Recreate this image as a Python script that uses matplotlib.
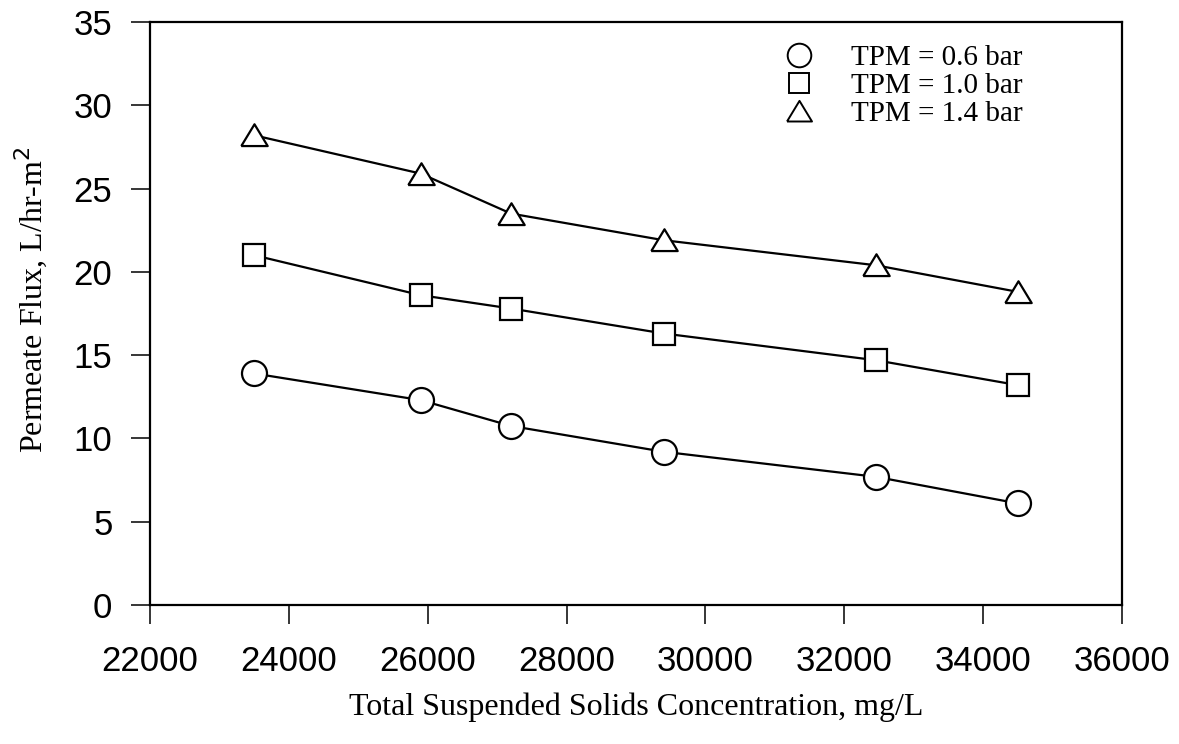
import numpy as np
import matplotlib
matplotlib.use("Agg")
import matplotlib.pyplot as plt
from matplotlib.lines import Line2D

# data
tss = [23500, 25900, 27200, 29400, 32450, 34500]
flux_06 = [13.9, 12.3, 10.75, 9.2, 7.7, 6.1]
flux_10 = [21.0, 18.6, 17.8, 16.3, 14.7, 13.2]
flux_14 = [28.2, 25.9, 23.5, 21.9, 20.4, 18.8]
labels = ["TPM = 0.6 bar", "TPM = 1.0 bar", "TPM = 1.4 bar"]

tri = [(-1, -0.8), (1, -0.8), (0, 0.85), (-1, -0.8)]

fig = plt.figure(figsize=(11.79, 7.44), dpi=100)
ax = fig.add_axes([0.1272, 0.1868, 0.8245, 0.7836])

ax.plot(tss, flux_06, color="black", lw=1.6, marker="o", ms=18,
        mfc="white", mec="black", mew=1.6)
ax.plot(tss, flux_10, color="black", lw=1.6, marker="s", ms=16,
        mfc="white", mec="black", mew=1.6)
ax.plot(tss, flux_14, color="black", lw=1.6, marker=tri, ms=19,
        mfc="white", mec="black", mew=1.6)

ax.set_xlim(22000, 36000)
ax.set_ylim(0, 35)
ax.set_xticks(np.arange(22000, 36001, 2000))
ax.set_yticks(np.arange(0, 36, 5))
ax.tick_params(direction="out", length=14, width=1.1, labelsize=25)
ax.tick_params(axis="x", pad=15)
ax.tick_params(axis="y", pad=13)
for lab in ax.get_xticklabels() + ax.get_yticklabels():
    lab.set_fontfamily("Liberation Sans")
for s in ax.spines.values():
    s.set_linewidth(1.6)

ax.set_xlabel("Total Suspended Solids Concentration, mg/L",
              fontfamily="Liberation Serif", fontsize=23, labelpad=10)
ax.set_ylabel("Permeate Flux, L/hr-m$^2$", fontfamily="Liberation Serif",
              fontsize=23)
ax.yaxis.set_label_coords(-0.103, 0.523)

handles = [
    Line2D([], [], ls="none", marker="o", ms=17, mfc="white", mec="black", mew=1.4),
    Line2D([], [], ls="none", marker="s", ms=15, mfc="white", mec="black", mew=1.4),
    Line2D([], [], ls="none", marker=tri, ms=18, mfc="white", mec="black", mew=1.4),
]
ax.legend(handles, labels, loc="upper left", frameon=False,
          bbox_to_anchor=(0.665, 0.94), bbox_transform=fig.transFigure,
          prop={"family": "Liberation Serif", "size": 21},
          handlelength=1.0, handletextpad=1.3, labelspacing=0.06,
          borderpad=0, borderaxespad=0)

fig.savefig("out.png", dpi=100)
